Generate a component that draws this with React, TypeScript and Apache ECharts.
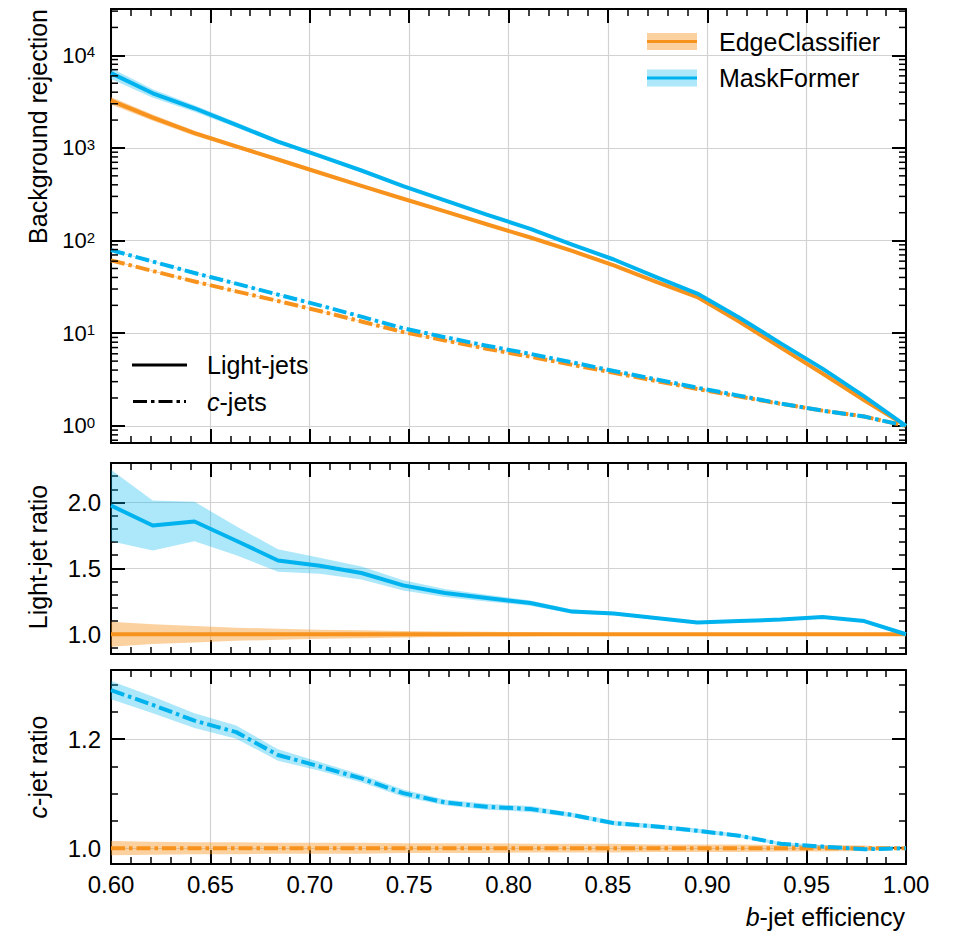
import React, { useEffect, useRef } from 'react';
import * as echarts from 'echarts';

// b-jet efficiency working points
const bEff = [0.600, 0.621, 0.642, 0.663, 0.684, 0.705, 0.726, 0.747, 0.768, 0.789, 0.811, 0.832, 0.853, 0.874, 0.895, 0.916, 0.937, 0.958, 0.979, 1.000];

// Background rejection (top panel)
const edgeLightRej = [3250, 2130, 1445, 1038, 751, 540, 390, 283, 207, 150, 108, 77.3, 54, 36, 24.6, 13.4, 7.0, 3.67, 1.89, 1.0];
const maskLightRej = [6425, 3889, 2682, 1775, 1172, 821, 571, 388, 272, 191, 134, 90.6, 62.5, 40.5, 26.8, 14.8, 7.78, 4.15, 2.08, 1.0];
const edgeCRej = [61.2, 47, 36.2, 28.3, 22.3, 17.4, 13.4, 10.3, 8.36, 6.81, 5.58, 4.57, 3.74, 3.06, 2.5, 2.07, 1.73, 1.46, 1.26, 1.0];
const maskCRej = [79, 59.4, 44.7, 34.3, 26.1, 20.0, 15.1, 11.3, 9.06, 7.33, 5.98, 4.85, 3.91, 3.18, 2.58, 2.12, 1.74, 1.46, 1.26, 1.0];

// Ratios to EdgeClassifier
const edgeRatio = [1, 1, 1, 1, 1, 1, 1, 1, 1, 1, 1, 1, 1, 1, 1, 1, 1, 1, 1, 1];
const maskLightRatio = [1.977, 1.826, 1.856, 1.71, 1.56, 1.52, 1.465, 1.371, 1.313, 1.275, 1.237, 1.172, 1.157, 1.124, 1.089, 1.101, 1.111, 1.131, 1.10, 1.0];
const maskCRatio = [1.29, 1.263, 1.234, 1.213, 1.171, 1.15, 1.128, 1.101, 1.084, 1.076, 1.072, 1.061, 1.046, 1.040, 1.032, 1.023, 1.008, 1.003, 0.998, 1.0];

// Relative uncertainties (bands)
const edgeLightRelErr = [0.095, 0.075, 0.062, 0.05, 0.042, 0.035, 0.03, 0.025, 0.021, 0.018, 0.015, 0.012, 0.01, 0.008, 0.007, 0.005, 0.004, 0.003, 0.002, 0];
const maskLightRelErr = [0.137, 0.104, 0.081, 0.064, 0.055, 0.04, 0.034, 0.029, 0.023, 0.02, 0.016, 0.014, 0.011, 0.01, 0.008, 0.006, 0.005, 0.004, 0.003, 0];
const edgeCRelErr = [0.013, 0.012, 0.011, 0.011, 0.01, 0.01, 0.01, 0.009, 0.009, 0.009, 0.008, 0.008, 0.008, 0.007, 0.007, 0.007, 0.006, 0.006, 0.005, 0];
const maskCRelErr = [0.013, 0.012, 0.011, 0.01, 0.009, 0.007, 0.006, 0.006, 0.005, 0.005, 0.005, 0.004, 0.004, 0.004, 0.004, 0.003, 0.003, 0.003, 0.003, 0];

// Axis decades for the log panel
const logDecades = [-1, 0, 1, 2, 3, 4];

const FONT = 'Liberation Sans';
const ORANGE = '#F7921C';
const BLUE = '#00B3EE';
const ORANGE_BAND = 'rgba(247,146,28,0.42)';
const BLUE_BAND = 'rgba(0,179,238,0.32)';
const GRID_COLOR = '#d2d2d2';
const DASHDOT = [14, 4, 3.5, 4];
const LINE_W = 4;

const X_MIN = 0.6;
const X_MAX = 1.0;
const TOP_MIN = -0.185;
const TOP_MAX = 4.5;

function App() {
  const ref = useRef<HTMLDivElement>(null);

  useEffect(() => {
    document.body.style.margin = '0';
    if (!ref.current) return;
    const chart = echarts.init(ref.current, null, { renderer: 'svg' });

    const log = (a: number[]) => a.map((v) => Math.log10(v));
    const scaleBand = (v: number[], rel: number[], sign: number, useLog: boolean) =>
      v.map((val, i) => {
        const r = val * (1 + sign * rel[i]);
        return useLog ? Math.log10(r) : r;
      });

    const band = (g: number, lo: number[], hi: number[], color: string) => {
      const data = bEff.map((x, i) => [x, lo[i], hi[i]]);
      return {
        type: 'custom',
        xAxisIndex: 2 * g,
        yAxisIndex: 2 * g,
        data,
        clip: true,
        silent: true,
        z: 1,
        encode: { x: 0, y: [1, 2] },
        renderItem: (params: any, api: any) => {
          if (params.dataIndex !== 0) return null;
          const up = data.map((d) => api.coord([d[0], d[2]]));
          const dn = data.map((d) => api.coord([d[0], d[1]])).reverse();
          return { type: 'polygon', shape: { points: up.concat(dn) }, style: { fill: color } };
        },
      };
    };

    const line = (g: number, ys: number[], color: string, dashed: boolean, z: number) => ({
      type: 'line',
      xAxisIndex: 2 * g,
      yAxisIndex: 2 * g,
      data: bEff.map((x, i) => [x, ys[i]]),
      showSymbol: false,
      symbol: 'none',
      silent: true,
      clip: true,
      z,
      lineStyle: { color, width: LINE_W, type: dashed ? DASHDOT : 'solid', cap: 'butt', join: 'round' },
    });

    const minorLog: number[][] = [];
    logDecades.forEach((n) => {
      for (let k = 2; k <= 9; k++) {
        const v = n + Math.log10(k);
        if (v > TOP_MIN && v < TOP_MAX) minorLog.push([X_MIN, v]);
      }
    });

    const axisLineStyle = { show: true, onZero: false, lineStyle: { color: '#000', width: 2 } };
    const tickStyle = { show: true, inside: true, length: 14, lineStyle: { color: '#000', width: 2 } };

    const xAxes: any[] = [];
    const yAxes: any[] = [];
    for (let g = 0; g < 3; g++) {
      xAxes.push({
        type: 'value', gridIndex: g, min: X_MIN, max: X_MAX, interval: 0.05, position: 'bottom',
        axisLine: axisLineStyle, axisTick: tickStyle,
        minorTick: { show: true, splitNumber: 5, length: 7, lineStyle: { color: '#000', width: 1.5 } },
        splitLine: { show: true, lineStyle: { color: GRID_COLOR, width: 1.2 } },
        axisLabel: {
          show: g === 2, margin: 8, fontSize: 24, fontFamily: FONT, color: '#000',
          formatter: (v: number) => v.toFixed(2),
        },
      });
      xAxes.push({
        type: 'value', gridIndex: g, min: X_MIN, max: X_MAX, interval: 0.05, position: 'top',
        axisLine: axisLineStyle, axisTick: tickStyle,
        minorTick: { show: true, splitNumber: 5, length: 7, lineStyle: { color: '#000', width: 1.5 } },
        splitLine: { show: false }, axisLabel: { show: false },
      });
    }

    // top panel (log10 of rejection)
    const topLabel = {
      margin: 16,
      formatter: (v: number) => {
        const r = Math.round(v);
        return Math.abs(v - r) < 1e-6 ? `{a|10}{b|${r}}` : '';
      },
      rich: {
        a: { fontSize: 22, fontFamily: FONT, color: '#000', lineHeight: 22, padding: [10, 0, 0, 0], verticalAlign: 'bottom' },
        b: { fontSize: 15, fontFamily: FONT, color: '#000', lineHeight: 15, verticalAlign: 'top' },
      },
    };
    const ratioLabel = (step: number) => ({
      margin: 10, fontSize: 24, fontFamily: FONT, color: '#000',
      formatter: (v: number) => (Math.abs(v / step - Math.round(v / step)) < 1e-6 ? v.toFixed(1) : ''),
    });

    const yDefs = [
      { min: TOP_MIN, max: TOP_MAX, splitNumber: 5, minor: false, minorSplit: 5, label: topLabel },
      { min: 0.85, max: 2.3, splitNumber: 3, minor: true, minorSplit: 5, label: ratioLabel(0.5) },
      { min: 0.971, max: 1.327, splitNumber: 2, minor: true, minorSplit: 4, label: ratioLabel(0.2) },
    ];
    yDefs.forEach((d, g) => {
      yAxes.push({
        type: 'value', gridIndex: g, min: d.min, max: d.max, splitNumber: d.splitNumber, position: 'left',
        axisLine: axisLineStyle, axisTick: tickStyle,
        minorTick: { show: d.minor, splitNumber: d.minorSplit, length: 7, lineStyle: { color: '#000', width: 1.5 } },
        splitLine: { show: true, lineStyle: { color: GRID_COLOR, width: 1.2 } },
        axisLabel: d.label,
      });
      yAxes.push({
        type: 'value', gridIndex: g, min: d.min, max: d.max, splitNumber: d.splitNumber, position: 'right',
        axisLine: axisLineStyle, axisTick: tickStyle,
        minorTick: { show: d.minor, splitNumber: d.minorSplit, length: 7, lineStyle: { color: '#000', width: 1.5 } },
        splitLine: { show: false }, axisLabel: { show: false },
      });
    });

    const minorTickSeries = {
      type: 'custom',
      xAxisIndex: 0,
      yAxisIndex: 0,
      data: minorLog,
      silent: true,
      z: 10,
      encode: { x: 0, y: 1 },
      renderItem: (params: any, api: any) => {
        const v = api.value(1);
        const L = api.coord([X_MIN, v]);
        const R = api.coord([X_MAX, v]);
        return {
          type: 'group',
          children: [
            { type: 'line', shape: { x1: L[0], y1: L[1], x2: L[0] + 7, y2: L[1] }, style: { stroke: '#000', lineWidth: 1.5 } },
            { type: 'line', shape: { x1: R[0] - 7, y1: R[1], x2: R[0], y2: R[1] }, style: { stroke: '#000', lineWidth: 1.5 } },
          ],
        };
      },
    };

    const series: any[] = [
      // top panel
      band(0, scaleBand(edgeLightRej, edgeLightRelErr, -1, true), scaleBand(edgeLightRej, edgeLightRelErr, 1, true), ORANGE_BAND),
      band(0, scaleBand(maskLightRej, maskLightRelErr, -1, true), scaleBand(maskLightRej, maskLightRelErr, 1, true), BLUE_BAND),
      band(0, scaleBand(edgeCRej, edgeCRelErr, -1, true), scaleBand(edgeCRej, edgeCRelErr, 1, true), ORANGE_BAND),
      band(0, scaleBand(maskCRej, maskCRelErr, -1, true), scaleBand(maskCRej, maskCRelErr, 1, true), BLUE_BAND),
      line(0, log(edgeLightRej), ORANGE, false, 3),
      line(0, log(maskLightRej), BLUE, false, 4),
      line(0, log(edgeCRej), ORANGE, true, 3),
      line(0, log(maskCRej), BLUE, true, 4),
      minorTickSeries,
      // middle panel
      band(1, scaleBand(edgeRatio, edgeLightRelErr, -1, false), scaleBand(edgeRatio, edgeLightRelErr, 1, false), ORANGE_BAND),
      band(1, scaleBand(maskLightRatio, maskLightRelErr, -1, false), scaleBand(maskLightRatio, maskLightRelErr, 1, false), BLUE_BAND),
      line(1, edgeRatio, ORANGE, false, 3),
      line(1, maskLightRatio, BLUE, false, 4),
      // bottom panel
      band(2, scaleBand(edgeRatio, edgeCRelErr, -1, false), scaleBand(edgeRatio, edgeCRelErr, 1, false), ORANGE_BAND),
      band(2, scaleBand(maskCRatio, maskCRelErr, -1, false), scaleBand(maskCRatio, maskCRelErr, 1, false), BLUE_BAND),
      line(2, edgeRatio, ORANGE, true, 3),
      line(2, maskCRatio, BLUE, true, 4),
    ];

    const txt = (x: number, y: number, text: string, align: string, extra: any = {}) => ({
      type: 'text',
      x,
      y,
      silent: true,
      z: 20,
      ...extra,
      style: {
        text,
        fontSize: 25,
        fontFamily: FONT,
        fill: '#000',
        align,
        textAlign: align,
        verticalAlign: 'middle',
        textVerticalAlign: 'middle',
        rich: {
          i: { fontSize: 25, fontFamily: FONT, fontStyle: 'italic', fill: '#000' },
          n: { fontSize: 25, fontFamily: FONT, fill: '#000' },
        },
      },
    });

    const graphic: any[] = [
      // model legend
      { type: 'rect', shape: { x: 647, y: 33, width: 50, height: 17 }, style: { fill: ORANGE_BAND }, z: 20 },
      { type: 'line', shape: { x1: 647, y1: 41.5, x2: 697, y2: 41.5 }, style: { stroke: ORANGE, lineWidth: 3 }, z: 21 },
      txt(719, 41.5, 'EdgeClassifier', 'left'),
      { type: 'rect', shape: { x: 647, y: 69.5, width: 50, height: 17 }, style: { fill: BLUE_BAND }, z: 20 },
      { type: 'line', shape: { x1: 647, y1: 78, x2: 697, y2: 78 }, style: { stroke: BLUE, lineWidth: 3 }, z: 21 },
      txt(719, 78, 'MaskFormer', 'left'),
      // flavour legend
      { type: 'line', shape: { x1: 132, y1: 365, x2: 187, y2: 365 }, style: { stroke: '#000', lineWidth: 3 }, z: 21 },
      txt(207, 365, 'Light-jets', 'left'),
      { type: 'line', shape: { x1: 133, y1: 401.5, x2: 186, y2: 401.5 }, style: { stroke: '#000', lineWidth: 3, lineDash: DASHDOT }, z: 21 },
      txt(207, 401.5, '{i|c}{n|-jets}', 'left'),
      // axis titles
      txt(37.5, 9, 'Background rejection', 'right', { rotation: Math.PI / 2 }),
      txt(37.5, 557, 'Light-jet ratio', 'center', { rotation: Math.PI / 2 }),
      txt(37.5, 767, '{i|c}{n|-jet ratio}', 'center', { rotation: Math.PI / 2 }),
      txt(905, 917, '{i|b}{n|-jet efficiency}', 'right'),
    ];

    chart.setOption({
      animation: false,
      backgroundColor: '#fff',
      grid: [
        { left: 111, top: 9, width: 795, height: 434, outerBoundsMode: 'none' },
        { left: 111, top: 463, width: 795, height: 191, outerBoundsMode: 'none' },
        { left: 111, top: 670, width: 795, height: 194, outerBoundsMode: 'none' },
      ],
      xAxis: xAxes,
      yAxis: yAxes,
      series,
      graphic,
    });

    return () => chart.dispose();
  }, []);

  return <div ref={ref} style={{ width: 954, height: 933 }} />;
}

export default App;
